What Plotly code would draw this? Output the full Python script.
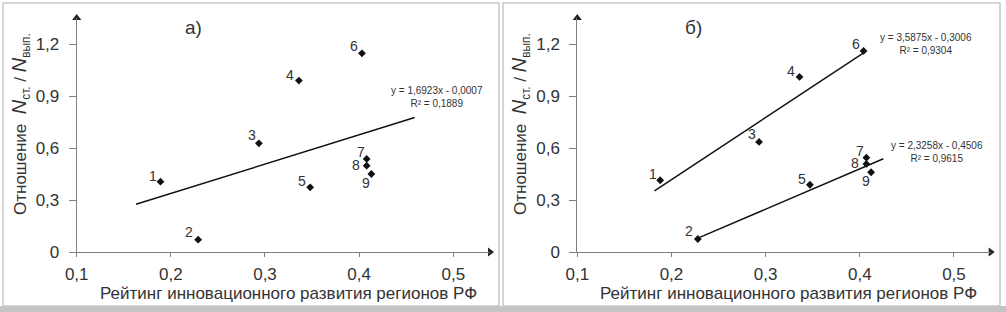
import plotly.graph_objects as go

# ---- data ----
labels = ["1", "2", "3", "4", "5", "6", "7", "8", "9"]
xa = [0.189, 0.229, 0.2935, 0.336, 0.348, 0.403, 0.408, 0.408, 0.413]
ya = [0.406, 0.071, 0.627, 0.989, 0.373, 1.146, 0.537, 0.498, 0.450]
xb = [0.188, 0.228, 0.293, 0.336, 0.347, 0.404, 0.407, 0.407, 0.412]
yb = [0.414, 0.075, 0.635, 1.010, 0.388, 1.160, 0.544, 0.508, 0.460]
# label offsets from the point (pixels, right / down)
label_dx = [-7, -9, -7, -9, -8, -8, -6, -11, -5]
label_dy = [-6, -8, -8, -6, -6, -7, -7, -1, 9]

# trend lines: (slope, intercept, x-start, x-end)
trend_a = [(1.6923, -0.0007, 0.163, 0.459)]
trend_b = [(3.5875, -0.3006, 0.182, 0.404), (2.3258, -0.4506, 0.230, 0.425)]
eq_a = ["y = 1,6923x - 0,0007<br>R² = 0,1889"]
eq_b = ["y = 3,5875x - 0,3006<br>R² = 0,9304", "y = 2,3258x - 0,4506<br>R² = 0,9615"]

xtick_vals = [0.1, 0.2, 0.3, 0.4, 0.5]
xtick_text = ["0,1", "0,2", "0,3", "0,4", "0,5"]
ytick_vals = [0, 0.3, 0.6, 0.9, 1.2]
ytick_text = ["0", "0,3", "0,6", "0,9", "1,2"]

W, H = 1006, 312
FONT = "Liberation Sans, Arial, sans-serif"
TXT = "#333333"
AX = "#808080"
XR = [0.1, 0.539]
YR = [0, 1.35]

fig = go.Figure()

def add_panel(xs, ys, trends, xa_name, ya_name):
    for (k, b, x0, x1) in trends:
        fig.add_trace(go.Scatter(x=[x0, x1], y=[k * x0 + b, k * x1 + b], mode="lines",
                                 line=dict(color="#111111", width=1.5),
                                 xaxis=xa_name, yaxis=ya_name, showlegend=False,
                                 hoverinfo="skip"))
    fig.add_trace(go.Scatter(x=xs, y=ys, mode="markers",
                             marker=dict(symbol="diamond", size=6, color="#111111"),
                             xaxis=xa_name, yaxis=ya_name, showlegend=False,
                             cliponaxis=False))
    # axis arrowheads
    fig.add_trace(go.Scatter(x=[XR[1], XR[0]], y=[YR[0], YR[1]], mode="markers",
                             marker=dict(symbol=["triangle-right", "triangle-up"], size=8,
                                         color="#222222"),
                             xaxis=xa_name, yaxis=ya_name, showlegend=False,
                             cliponaxis=False, hoverinfo="skip"))

add_panel(xa, ya, trend_a, "x", "y")
add_panel(xb, yb, trend_b, "x2", "y2")

ydom = [60 / H, 294 / H]
xcommon = dict(range=XR, tickvals=xtick_vals, ticktext=xtick_text, showgrid=False,
               zeroline=False, showline=True, linecolor=AX, linewidth=1,
               ticks="outside", ticklen=4, tickcolor=AX, automargin=False,
               tickfont=dict(family=FONT, size=17, color=TXT), ticklabelstandoff=3)
ycommon = dict(range=YR, tickvals=ytick_vals, ticktext=ytick_text, showgrid=False,
               zeroline=False, showline=True, linecolor=AX, linewidth=1,
               ticks="outside", ticklen=7, tickcolor=AX, domain=ydom, automargin=False,
               tickfont=dict(family=FONT, size=17, color=TXT), ticklabelstandoff=6)

fig.update_layout(
    template="none",
    width=W, height=H, margin=dict(l=0, r=0, t=0, b=0, pad=0),
    paper_bgcolor="white", plot_bgcolor="white",
    xaxis=dict(domain=[76.7 / W, 490 / W], anchor="y", **xcommon),
    yaxis=dict(anchor="x", **ycommon),
    xaxis2=dict(domain=[577.3 / W, 990.7 / W], anchor="y2", **xcommon),
    yaxis2=dict(anchor="x2", **ycommon),
)

ytitle = ("Отношение  <i><span style='font-size:20px'>N</span></i><sub>ст.</sub>"
          " / <i><span style='font-size:20px'>N</span></i><sub>вып.</sub>")
xtitle = "Рейтинг инновационного развития регионов РФ"

ann = []
def centered(**kw):
    d = dict(showarrow=False, xanchor="center", yanchor="middle")
    d.update(kw)
    return d

for (xref, yref, off, tag, xs, ys, eqs, eqpos) in [
        ("x", "y", 0, "а)", xa, ya, eq_a, [(436.5, 96.5)]),
        ("x2", "y2", 500, "б)", xb, yb, eq_b, [(925.5, 44), (937, 152)])]:
    for lab, px, py, dx, dy in zip(labels, xs, ys, label_dx, label_dy):
        ann.append(centered(x=px, y=py, xref=xref, yref=yref, text=lab,
                            xshift=dx, yshift=-dy,
                            font=dict(family=FONT, size=14, color=TXT)))
    ann.append(centered(x=(off + 193) / W, y=1 - 27 / H, xref="paper", yref="paper", text=tag,
                        font=dict(family=FONT, size=19, color=TXT)))
    ann.append(centered(x=(off + 288) / W, y=1 - 293 / H, xref="paper", yref="paper",
                        text=xtitle, font=dict(family=FONT, size=17, color=TXT)))
    ann.append(centered(x=(off + 21) / W, y=1 - 124 / H, xref="paper", yref="paper",
                        text=ytitle, textangle=-90,
                        font=dict(family=FONT, size=17, color=TXT)))
    for t, (px, py) in zip(eqs, eqpos):
        ann.append(centered(x=px / W, y=1 - py / H, xref="paper", yref="paper", text=t,
                            align="center", font=dict(family=FONT, size=10, color="#333333")))
fig.update_layout(annotations=ann)

shapes = []
for (x0, x1) in [(3, 499), (503, 1000)]:
    shapes.append(dict(type="rect", xref="paper", yref="paper", x0=x0 / W, x1=x1 / W,
                       y0=1 - 306 / H, y1=1 - 3 / H, line=dict(color="#c8c8c8", width=1.5)))
shapes.append(dict(type="rect", xref="paper", yref="paper", x0=0, x1=1, y0=0, y1=6 / H,
                   fillcolor="#c4c4c4", line=dict(width=0), layer="below"))
fig.update_layout(shapes=shapes)

fig.write_html("out.html", config={"displayModeBar": False},
               post_script="document.body.style.margin='0';document.body.style.padding='0';")
